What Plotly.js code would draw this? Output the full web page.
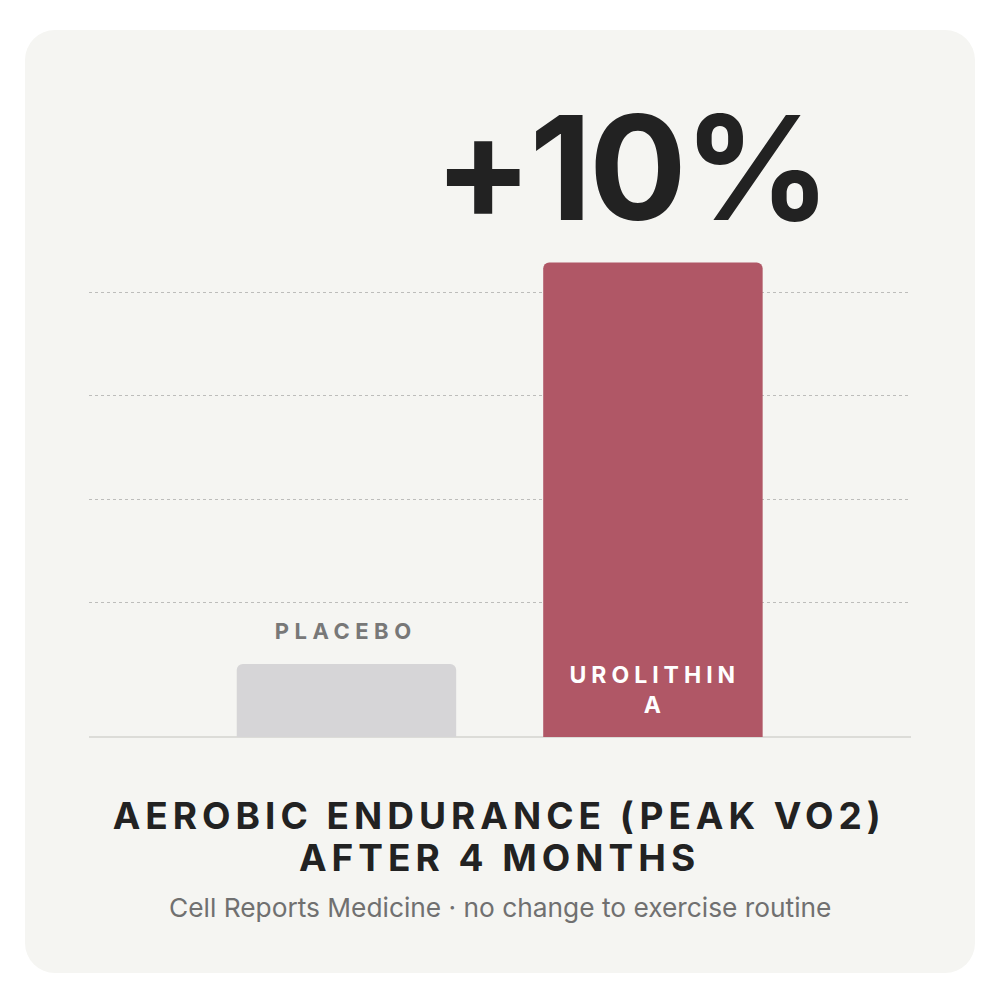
<!DOCTYPE html>
<html>
<head>
<meta charset="utf-8">
<script src="https://cdn.plot.ly/plotly-3.0.1.min.js"></script>
<style>
  html, body { margin: 0; padding: 0; background: #ffffff; }
  #card { position: absolute; left: 25px; top: 30px; width: 950px; height: 943px; border-radius: 30px; background: #f5f5f2; }
  #chart { position: absolute; left: 0; top: 0; width: 1000px; height: 1000px; }
</style>
</head>
<body>
<div id="card"></div>
<div id="chart"></div>
<script>
// Data
const categories = ["Placebo", "Urolithin A"];
const barLabels = ["PLACEBO", "UROLITHIN<br>A"];
const values = [0.705, 4.59];
const barColors = ["#d6d5d7", "#b05766"];
const gridValues = [1.3, 2.3, 3.3, 4.3];
const headline = "+10%";
const titleLine1 = "AEROBIC ENDURANCE (PEAK VO2)";
const titleLine2 = "AFTER 4 MONTHS";
const subtitle = "Cell Reports Medicine · no change to exercise routine";

const FONT = "Inter, 'Noto Sans', sans-serif";

const trace = {
  type: "bar",
  x: categories,
  y: values,
  width: 0.716,
  marker: { color: barColors, line: { width: 0 } },
  hoverinfo: "skip"
};

// letter spacing per annotation (px)
const spacing = [-3, 5.5, 5, 5, 5, 0];

const layout = {
  width: 1000, height: 1000,
  margin: { l: 89, r: 89, t: 220, b: 263 },
  paper_bgcolor: "rgba(0,0,0,0)",
  plot_bgcolor: "rgba(0,0,0,0)",
  barcornerradius: 6,
  showlegend: false,
  xaxis: {
    type: "category",
    range: [-0.84, 1.842],
    showticklabels: false, showgrid: false, zeroline: false, showline: false, ticks: ""
  },
  yaxis: {
    range: [0, 5],
    tickvals: gridValues,
    showticklabels: false, ticks: "",
    showgrid: true, gridcolor: "#bdbdbb", griddash: "dot", gridwidth: 1,
    zeroline: true, zerolinecolor: "#dcdcd8", zerolinewidth: 2,
    showline: false
  },
  annotations: [
    { xref: "paper", yref: "paper", x: 0.658, y: 1.101, xanchor: "center", yanchor: "middle",
      text: headline, showarrow: false, xshift: 1,
      font: { family: FONT, size: 145, color: "#222222", weight: 700 } },
    { xref: "x", yref: "y", x: categories[0], y: values[0], xanchor: "center", yanchor: "bottom", yshift: 18, xshift: -1,
      text: barLabels[0], showarrow: false,
      font: { family: FONT, size: 22, color: "#787878", weight: 700 } },
    { xref: "x", yref: "paper", x: categories[1], y: 0.091, xanchor: "center", yanchor: "middle", xshift: 2,
      text: barLabels[1], showarrow: false,
      font: { family: FONT, size: 23, color: "#ffffff", weight: 700 } },
    { xref: "paper", yref: "paper", x: 0.5, y: -0.151, xanchor: "center", yanchor: "middle", xshift: -1,
      text: titleLine1, showarrow: false,
      font: { family: FONT, size: 37, color: "#222222", weight: 700 } },
    { xref: "paper", yref: "paper", x: 0.5, y: -0.233, xanchor: "center", yanchor: "middle", xshift: -1,
      text: titleLine2, showarrow: false,
      font: { family: FONT, size: 37, color: "#222222", weight: 700 } },
    { xref: "paper", yref: "paper", x: 0.5, y: -0.329, xanchor: "center", yanchor: "middle",
      text: subtitle, showarrow: false,
      font: { family: FONT, size: 26.3, color: "#707070", weight: 400 } }
  ]
};

Plotly.newPlot("chart", [trace], layout, { displayModeBar: false, staticPlot: true }).then(function (gd) {
  const texts = gd.querySelectorAll(".annotation-text");
  texts.forEach(function (t, i) {
    if (spacing[i]) t.style.letterSpacing = spacing[i] + "px";
  });
});
</script>
</body>
</html>
